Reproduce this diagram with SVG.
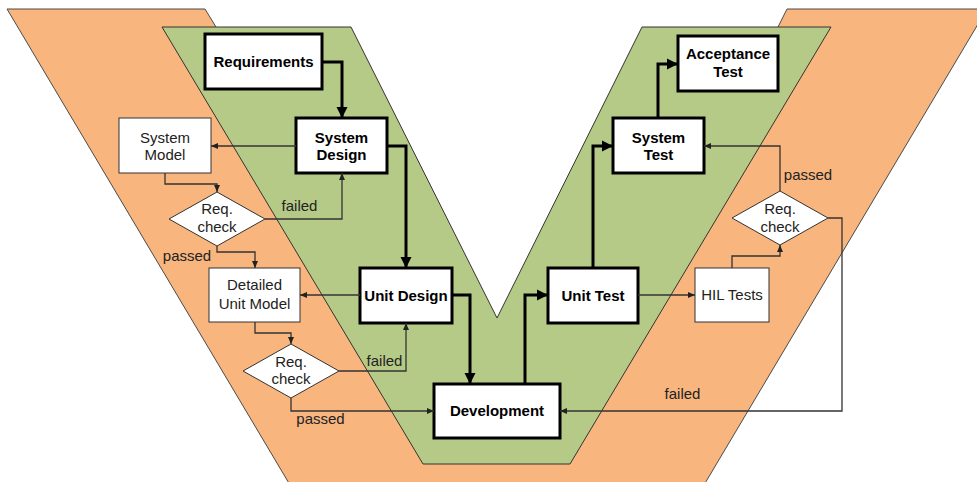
<svg xmlns="http://www.w3.org/2000/svg" width="977" height="482" viewBox="0 0 977 482">
<defs>
<style>
.bg-o{fill:#F8B57E;stroke:#4a4a4a;stroke-width:1}
.bg-g{fill:#B6CA87;stroke:#333;stroke-width:1}
.main rect{fill:#fff;stroke:#000;stroke-width:3}
.aux rect,.aux polygon{fill:#fff;stroke:#333;stroke-width:1}
.bt{font-family:"Liberation Sans",Arial,sans-serif;font-size:15px;font-weight:bold;fill:#000;text-anchor:middle}
.rt{font-family:"Liberation Sans",Arial,sans-serif;font-size:15px;fill:#222;text-anchor:middle}
.thick{fill:none;stroke:#000;stroke-width:3;marker-end:url(#ah)}
.thin{fill:none;stroke:#333;stroke-width:1.3;marker-end:url(#as)}
</style>
<marker id="ah" markerUnits="userSpaceOnUse" markerWidth="12" markerHeight="12" refX="11" refY="6" orient="auto"><path d="M0,0.5 L11,6 L0,11.5 z" fill="#000"/></marker>
<marker id="as" markerUnits="userSpaceOnUse" markerWidth="8" markerHeight="8" refX="7" refY="4" orient="auto"><path d="M0,1 L7,4 L0,7 z" fill="#222"/></marker>
</defs>
<g id="background">
<polygon class="bg-o" points="7,9 205,9 216,27 497,400 778,27 787,9 987,9 701,490 293,490"/>
<polygon class="bg-g" points="162,27 351,27 497,318 642,27 831,27 570,464 423,464"/>
</g>
<g id="nodes">
<g id="requirements" class="main"><rect x="205" y="34" width="117" height="55"/><text class="bt" x="263.5" y="67">Requirements</text></g>
<g id="system-design" class="main"><rect x="296" y="118" width="91" height="55"/><text class="bt" x="341.5" y="143">System</text><text class="bt" x="341.5" y="160">Design</text></g>
<g id="unit-design" class="main"><rect x="360" y="268" width="92" height="55"/><text class="bt" x="406" y="300.5">Unit Design</text></g>
<g id="development" class="main"><rect x="434" y="384" width="126" height="54"/><text class="bt" x="497" y="416">Development</text></g>
<g id="unit-test" class="main"><rect x="548" y="268" width="90" height="55"/><text class="bt" x="593" y="300.5">Unit Test</text></g>
<g id="system-test" class="main"><rect x="613" y="118" width="91" height="55"/><text class="bt" x="658.5" y="143">System</text><text class="bt" x="658.5" y="159.5">Test</text></g>
<g id="acceptance-test" class="main"><rect x="678" y="36" width="100" height="55"/><text class="bt" x="728" y="59">Acceptance</text><text class="bt" x="728" y="77">Test</text></g>
<g id="system-model" class="aux"><rect x="119" y="118" width="92" height="55"/><text class="rt" x="165" y="143">System</text><text class="rt" x="165" y="160">Model</text></g>
<g id="req-check-1" class="aux"><polygon points="217,192 265,219 217,246 169,219"/><text class="rt" x="217" y="214">Req.</text><text class="rt" x="217" y="231.5">check</text></g>
<g id="detailed-unit-model" class="aux"><rect x="209" y="268" width="91" height="54"/><text class="rt" x="254.5" y="290">Detailed</text><text class="rt" x="254.5" y="309">Unit Model</text></g>
<g id="req-check-2" class="aux"><polygon points="291,344 339,371 291,398 243,371"/><text class="rt" x="291" y="366.5">Req.</text><text class="rt" x="291" y="384">check</text></g>
<g id="hil-tests" class="aux"><rect x="695" y="268" width="74" height="54"/><text class="rt" x="732" y="300">HIL Tests</text></g>
<g id="req-check-3" class="aux"><polygon points="780,191 828,218 780,245 732,218"/><text class="rt" x="780" y="214">Req.</text><text class="rt" x="780" y="231.5">check</text></g>
</g>
<g id="connectors">
<path class="thick" d="M322,62 H342 V118"/>
<path class="thick" d="M387,146 H406 V268"/>
<path class="thick" d="M452,295 H470 V384"/>
<path class="thick" d="M525,384 V295 H548"/>
<path class="thick" d="M593,268 V146 H613"/>
<path class="thick" d="M658,118 V64 H678"/>
<path class="thin" d="M296,146 H211"/>
<path class="thin" d="M165,173 V184 H217 V192"/>
<path class="thin" d="M265,219 H342 V173"/>
<path class="thin" d="M217,246 V252 H255 V268"/>
<path class="thin" d="M360,295 H300"/>
<path class="thin" d="M255,322 V333 H291 V344"/>
<path class="thin" d="M339,371 H406 V323"/>
<path class="thin" d="M291,398 V411 H434"/>
<path class="thin" d="M638,295 H695"/>
<path class="thin" d="M732,268 V256 H780 V245"/>
<path class="thin" d="M780,191 V146 H704"/>
<path class="thin" d="M828,218 H842 V411 H560"/>
<text class="rt" x="299.5" y="211">failed</text>
<text class="rt" x="187" y="261">passed</text>
<text class="rt" x="384.5" y="366">failed</text>
<text class="rt" x="320.5" y="424">passed</text>
<text class="rt" x="808" y="180">passed</text>
<text class="rt" x="682.5" y="399">failed</text>
</g>
</svg>
